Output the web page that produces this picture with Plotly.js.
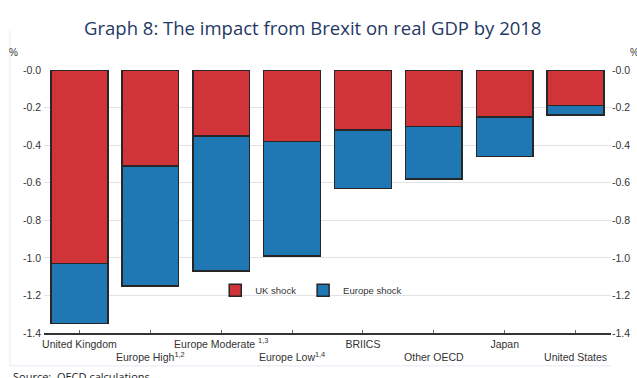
<!DOCTYPE html>
<html>
<head>
<meta charset="utf-8">
<script src="https://cdn.plot.ly/plotly-3.0.1.min.js"></script>
<style>html,body{margin:0;padding:0;background:#fff;}#chart{width:637px;height:378px;}</style>
</head>
<body>
<div id="chart"></div>
<script>
// Data
const categories = ["United Kingdom", "Europe High", "Europe Moderate", "Europe Low", "BRIICS", "Other OECD", "Japan", "United States"];
const categoryLabels = ["United Kingdom", "<br>Europe High<sup>1,2</sup>", "Europe Moderate <sup>1,3</sup>", "<br>Europe Low<sup>1,4</sup>", "BRIICS", "<br>Other OECD", "Japan", "<br>United States"];
const ukShock = [-1.03, -0.51, -0.35, -0.38, -0.32, -0.30, -0.25, -0.19];
const europeShock = [-0.32, -0.64, -0.72, -0.61, -0.31, -0.28, -0.21, -0.05];
const yTickVals = [0, -0.2, -0.4, -0.6, -0.8, -1.0, -1.2, -1.4];
const yTickText = ["-0.0", "-0.2", "-0.4", "-0.6", "-0.8", "-1.0", "-1.2", "-1.4"];

const red = "#D13438";
const blue = "#1F77B4";
const edge = "#262626";

const traces = [
  {type: "bar", name: "UK shock", x: categories, y: ukShock, legend: "legend",
   marker: {color: red, line: {color: edge, width: 1.5}}, hoverinfo: "skip"},
  {type: "bar", name: "Europe shock", x: categories, y: europeShock, legend: "legend2",
   marker: {color: blue, line: {color: edge, width: 1.5}}, hoverinfo: "skip"},
  {type: "scatter", mode: "none", x: categories, y: ukShock, yaxis: "y2",
   showlegend: false, hoverinfo: "skip"}
];

const tickFont = {family: "Liberation Sans, Arial, sans-serif", size: 10.5, color: "#333"};
const legendFont = {family: "Liberation Sans, Arial, sans-serif", size: 9.5, color: "#333"};

const layout = {
  width: 637, height: 378,
  margin: {l: 43.5, r: 26, t: 70, b: 45},
  paper_bgcolor: "#fff", plot_bgcolor: "#fff",
  barmode: "stack", bargap: 0.2,
  showlegend: true,
  legend: {orientation: "h", x: 0.302, y: 0.163, xanchor: "left", yanchor: "middle",
    font: legendFont, bgcolor: "rgba(0,0,0,0)"},
  legend2: {orientation: "h", x: 0.457, y: 0.163, xanchor: "left", yanchor: "middle",
    font: legendFont, bgcolor: "rgba(0,0,0,0)"},
  title: {text: "Graph 8: The impact from Brexit on real GDP by 2018",
    font: {family: "Open Sans, Noto Sans, sans-serif", size: 18.5, color: "#1F3864"},
    x: 0.474, xref: "paper", xanchor: "center", y: 0.925, yanchor: "middle"},
  xaxis: {type: "category", tickmode: "array", tickvals: categories, ticktext: categoryLabels,
    showline: true, linecolor: "#333", linewidth: 2,
    ticks: "inside", ticklen: 3, tickcolor: "#666", tickwidth: 1,
    showgrid: false, tickfont: tickFont, tickangle: 0, fixedrange: true},
  yaxis: {range: [-1.4, 0], tickmode: "array", tickvals: yTickVals, ticktext: yTickText,
    showgrid: true, gridcolor: "#E3E3E3", gridwidth: 1, zeroline: false,
    showline: false, ticks: "", tickfont: tickFont, ticklabelstandoff: 2, fixedrange: true},
  yaxis2: {range: [-1.4, 0], overlaying: "y", side: "right", tickmode: "array",
    tickvals: yTickVals, ticktext: yTickText, showgrid: false, zeroline: false,
    showline: false, ticks: "", tickfont: tickFont, fixedrange: true},
  annotations: [
    {text: "%", xref: "paper", yref: "paper", x: -0.053, y: 1.068, xanchor: "center", yanchor: "middle",
     showarrow: false, font: {family: "Liberation Sans, Arial, sans-serif", size: 10, color: "#333"}},
    {text: "%", xref: "paper", yref: "paper", x: 1.03, y: 1.068, xanchor: "left", yanchor: "middle",
     showarrow: false, font: {family: "Liberation Sans, Arial, sans-serif", size: 10, color: "#333"}},
    {text: "Source:  OECD calculations.", xref: "paper", yref: "paper", x: -0.058, y: -0.128,
     xanchor: "left", yanchor: "top", showarrow: false,
     font: {family: "Open Sans, Noto Sans, sans-serif", size: 11, color: "#222"}}
  ],
  shapes: [
    {type: "line", xref: "paper", yref: "paper", x0: -0.06, x1: 1.0, y0: -0.125, y1: -0.125,
     line: {color: "#E4EAF4", width: 1}},
    {type: "line", xref: "paper", yref: "paper", x0: -0.06, x1: -0.06, y0: -0.125, y1: 1.15,
     line: {color: "#E4EAF4", width: 1}}
  ]
};

Plotly.newPlot("chart", traces, layout, {displayModeBar: false, staticPlot: true});
</script>
</body>
</html>
